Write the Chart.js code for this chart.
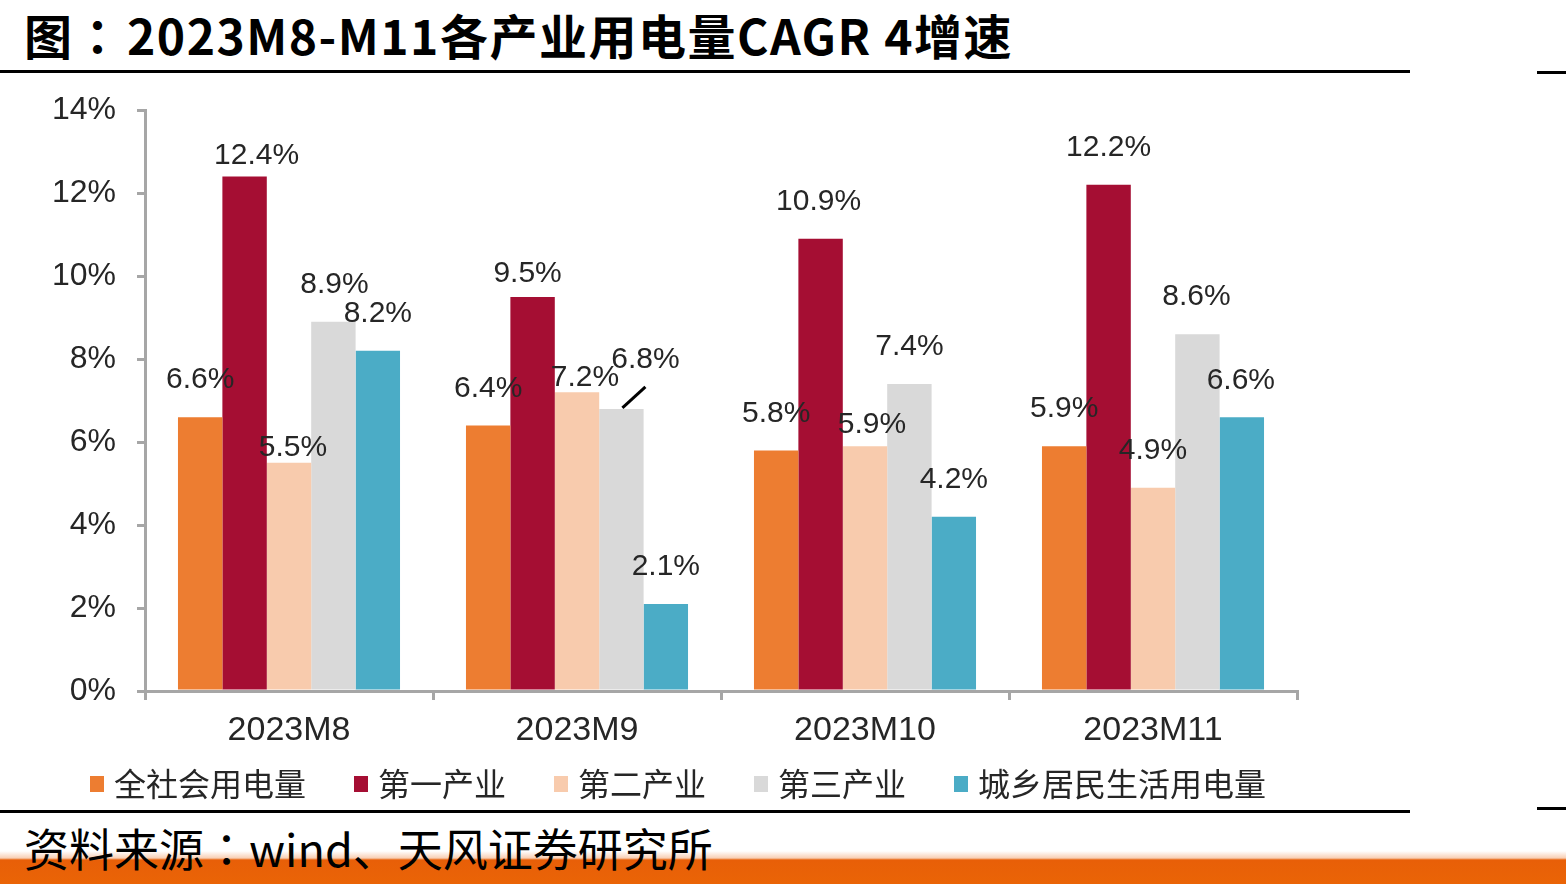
<!DOCTYPE html>
<html>
<head>
<meta charset="utf-8">
<script src="https://cdn.jsdelivr.net/npm/chart.js@4/dist/chart.umd.min.js"></script>
<style>
  html, body { margin: 0; padding: 0; background: #fff; }
  body { width: 1566px; height: 884px; position: relative; overflow: hidden; font-family: "Noto Sans CJK SC", sans-serif; }
  .title { position: absolute; left: 24px; top: -1px; font-size: 48px; font-weight: bold; color: #000; white-space: nowrap; letter-spacing: 1.5px; }
  .colon { font-family: "Noto Sans CJK TC", sans-serif; }
  .title .colon { margin-right: 4px; }
  .rule { position: absolute; height: 3px; background: #000; }
  .source { position: absolute; left: 24px; top: 815px; font-size: 45px; color: #000; white-space: nowrap; z-index: 3; }
  .band { position: absolute; left: 0; top: 851px; width: 1566px; height: 33px;
          background: linear-gradient(to bottom, rgba(232,96,10,0) 0px, rgba(232,96,10,0.3) 7px, #e85f08 9px, #ea6406 33px); }
  #chartBox { position: absolute; left: 0; top: 70px; width: 1566px; height: 740px; z-index: 2; }
</style>
</head>
<body>
<div class="title">图<span class="colon">：</span>2023M8-M11各产业用电量CAGR 4增速</div>
<div class="rule" style="left:0;top:70px;width:1410px;"></div>
<div class="rule" style="left:1537px;top:71px;width:29px;"></div>
<div class="band"></div>
<div class="rule" style="left:0;top:810px;width:1410px;"></div>
<div class="rule" style="left:1537px;top:807px;width:29px;"></div>
<div id="chartBox"><canvas id="chart"></canvas></div>
<div class="source">资料来源<span class="colon">：</span>wind、天风证券研究所</div>

<script>
// categories and series (percent)
const months = ['2023M8', '2023M9', '2023M10', '2023M11'];
const seriesNames = ['全社会用电量', '第一产业', '第二产业', '第三产业', '城乡居民生活用电量'];
const totalUse = [6.6, 6.4, 5.8, 5.9];
const primary = [12.4, 9.5, 10.9, 12.2];
const secondary = [5.5, 7.2, 5.9, 4.9];
const tertiary = [8.9, 6.8, 7.4, 8.6];
const residential = [8.2, 2.1, 4.2, 6.6];
const yTicks = [0, 2, 4, 6, 8, 10, 12, 14];

const colors = ['#ED7D31', '#A50E33', '#F8CBAD', '#D9D9D9', '#4BACC6'];

// label nudges [dx, raise above bar top] - hand placed like the original
const labelNudge = [
    [[0, 37], [0, 37], [0, 37], [0, 37]],
    [[12, 21], [-5, 23], [-2, 37], [0, 37]],
    [[4, 15], [8, 15], [7, 21], [0, 37]],
    [[1, 37], [24, 49], [0, 37], [-1, 37]],
    [[0, 37], [0, 37], [0, 37], [-1, 36]]
];
const leaders = [[3, 1]]; // dataset, index

const allSeries = [totalUse, primary, secondary, tertiary, residential];

const valueLabels = {
    id: 'valueLabels',
    afterDatasetsDraw(chart) {
        const ctx = chart.ctx;
        ctx.save();
        ctx.font = '30px "Liberation Sans", Arial, sans-serif';
        ctx.fillStyle = '#262626';
        ctx.textAlign = 'center';
        ctx.textBaseline = 'middle';
        chart.data.datasets.forEach((ds, i) => {
            chart.getDatasetMeta(i).data.forEach((bar, j) => {
                const n = labelNudge[i][j];
                ctx.fillText(ds.data[j].toFixed(1) + '%', bar.x + n[0], bar.y - n[1]);
            });
        });
        // leader lines
        ctx.strokeStyle = '#000';
        ctx.lineWidth = 3;
        leaders.forEach(([i, j]) => {
            const bar = chart.getDatasetMeta(i).data[j];
            ctx.beginPath();
            ctx.moveTo(bar.x + 1, bar.y - 1);
            ctx.lineTo(bar.x + 24, bar.y - 22);
            ctx.stroke();
        });
        ctx.restore();
    }
};

// Excel style legend row under the axis
const bottomLegend = {
    id: 'bottomLegend',
    afterDraw(chart) {
        const ctx = chart.ctx;
        const area = chart.chartArea;
        ctx.save();
        ctx.font = '32px "Noto Sans CJK SC", sans-serif';
        ctx.textBaseline = 'middle';
        const boxW = 14, boxH = 16, textGap = 10, itemGap = 48;
        const items = chart.data.datasets.map(ds => ({ text: ds.label, color: ds.backgroundColor, w: ctx.measureText(ds.label).width }));
        const total = items.reduce((s, it) => s + boxW + textGap + it.w, 0) + itemGap * (items.length - 1);
        let x = (area.left + area.right) / 2 - 43 - total / 2;
        const y = area.bottom + 93;
        items.forEach(it => {
            ctx.fillStyle = it.color;
            ctx.fillRect(x, y - boxH / 2, boxW, boxH);
            x += boxW + textGap;
            ctx.fillStyle = '#262626';
            ctx.fillText(it.text, x, y);
            x += it.w + itemGap;
        });
        ctx.restore();
    }
};

const ctx = document.getElementById('chart').getContext('2d');
new Chart(ctx, {
    type: 'bar',
    data: {
        labels: months,
        datasets: allSeries.map((d, i) => ({
            label: seriesNames[i],
            data: d,
            backgroundColor: colors[i],
            borderWidth: 0,
            categoryPercentage: 0.771,
            barPercentage: 1
        }))
    },
    options: {
        responsive: true,
        maintainAspectRatio: false,
        animation: false,
        layout: { padding: { top: 0, left: 0, right: 269, bottom: 59 } },
        plugins: {
            tooltip: { enabled: false },
            title: { display: false },
            legend: { display: false }
        },
        scales: {
            x: {
                grid: { offset: true, drawOnChartArea: false, drawTicks: true, tickLength: 9, color: '#A6A6A6', lineWidth: 3 },
                border: { color: '#A6A6A6', width: 3 },
                ticks: { color: '#262626', padding: 10, font: { size: 34, family: '"Liberation Sans", Arial, sans-serif' } },
                afterFit: s => { s.height = 60; }
            },
            y: {
                min: 0,
                max: 14,
                afterBuildTicks: s => { s.ticks = yTicks.map(v => ({ value: v })); },
                grid: { drawOnChartArea: false, drawTicks: true, tickLength: 8, color: '#A6A6A6', lineWidth: 3 },
                border: { color: '#A6A6A6', width: 3 },
                ticks: {
                    color: '#262626',
                    padding: 21,
                    font: { size: 32, family: '"Liberation Sans", Arial, sans-serif' },
                    callback: v => v + '%'
                },
                afterFit: s => { s.width = 145; }
            }
        }
    },
    plugins: [valueLabels, bottomLegend]
});
</script>
</body>
</html>
